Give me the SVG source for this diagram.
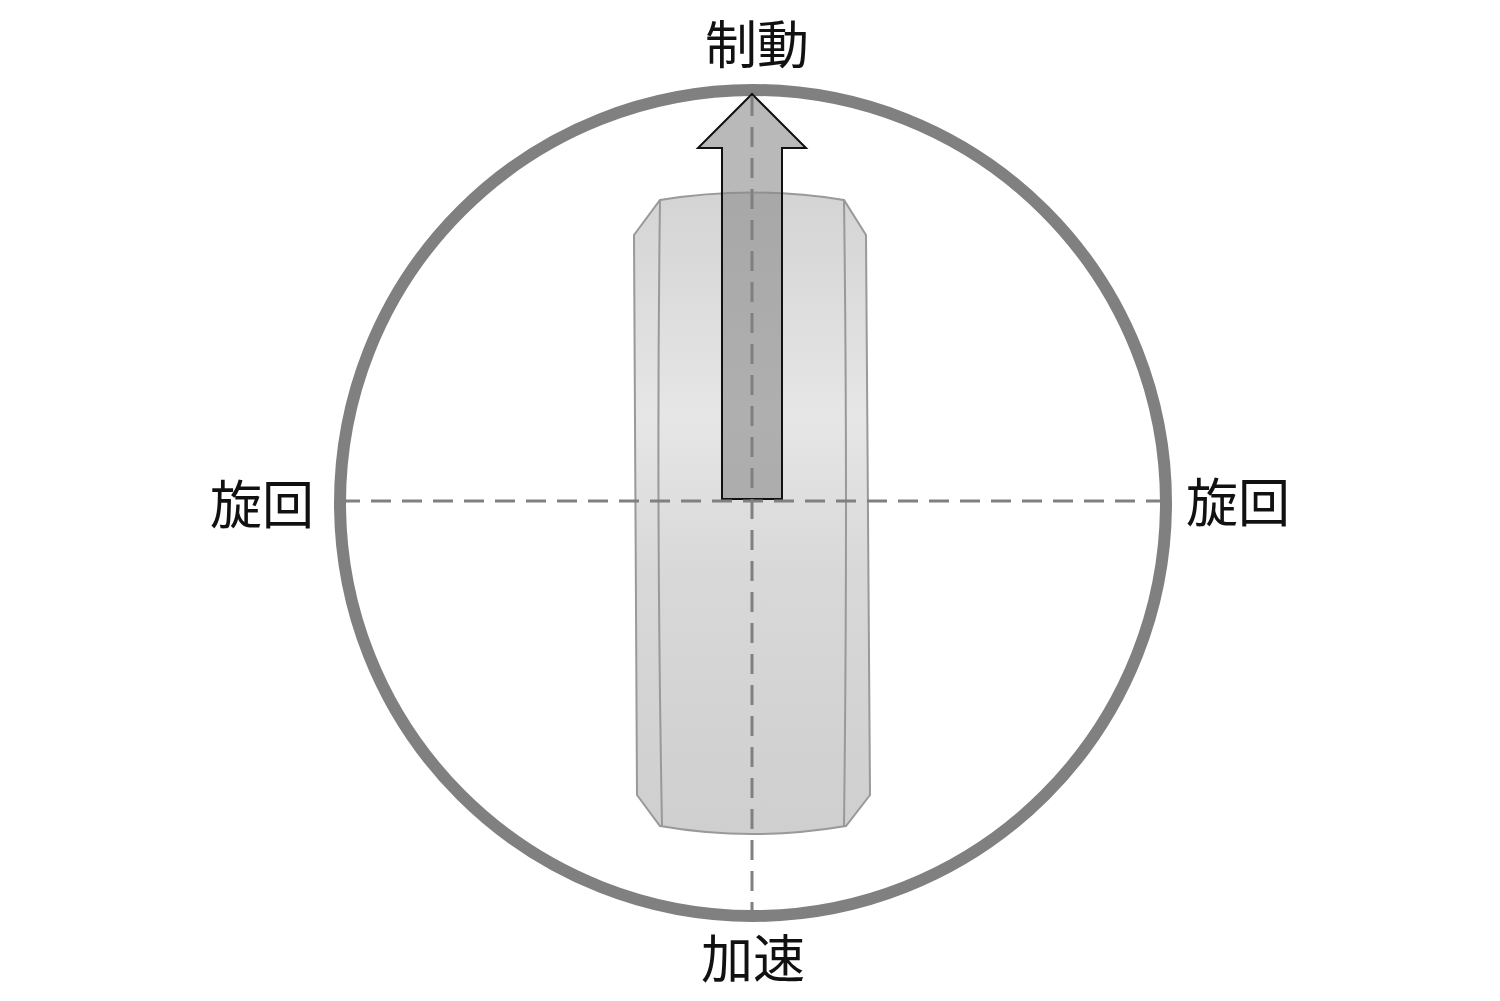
<svg xmlns="http://www.w3.org/2000/svg" width="1500" height="1001" viewBox="0 0 1500 1001">
<style>
.t{font-family:"Noto Sans CJK JP","Noto Sans CJK SC",sans-serif;font-size:52px;fill:#111;text-anchor:middle}
.d{stroke:#808080;stroke-width:3;stroke-dasharray:20 11;fill:none}
</style>
<defs>
<linearGradient id="g" x1="0" y1="0" x2="0" y2="1">
<stop offset="0" stop-color="#d4d4d4"/><stop offset="0.35" stop-color="#e6e6e6"/><stop offset="0.6" stop-color="#d8d8d8"/><stop offset="1" stop-color="#cfcfcf"/>
</linearGradient>
</defs>
<rect width="1500" height="1001" fill="#fff"/>
<g id="circle"><circle cx="753" cy="503" r="413" fill="none" stroke="#808080" stroke-width="12"/></g>
<g id="tire">
<path d="M660 200 Q752 185 844 200 L866 235 L870 795 L846 826 Q752 842 660 826 L637 795 L634 235 Z" fill="url(#g)" stroke="#999" stroke-width="2"/>
<path d="M660 200 Q656 500 662 826 M844 200 Q848 500 844 826" fill="none" stroke="#999" stroke-width="2"/>
</g>
<g id="arrow"><path d="M722 499 L722 148 L698 148 L752 94 L806 148 L782 148 L782 499 Z" fill="#8a8a8a" fill-opacity="0.6" stroke="#111" stroke-width="2"/></g>
<g id="connectors">
<line class="d" x1="340" y1="501" x2="1168" y2="501"/>
<line class="d" x1="752" y1="96" x2="752" y2="912"/>
</g>
<g id="labels">
<text class="t" x="757" y="64">制動</text>
<text class="t" x="262" y="524">旋回</text>
<text class="t" x="1238" y="522">旋回</text>
<text class="t" x="753" y="978">加速</text>
</g>
</svg>
